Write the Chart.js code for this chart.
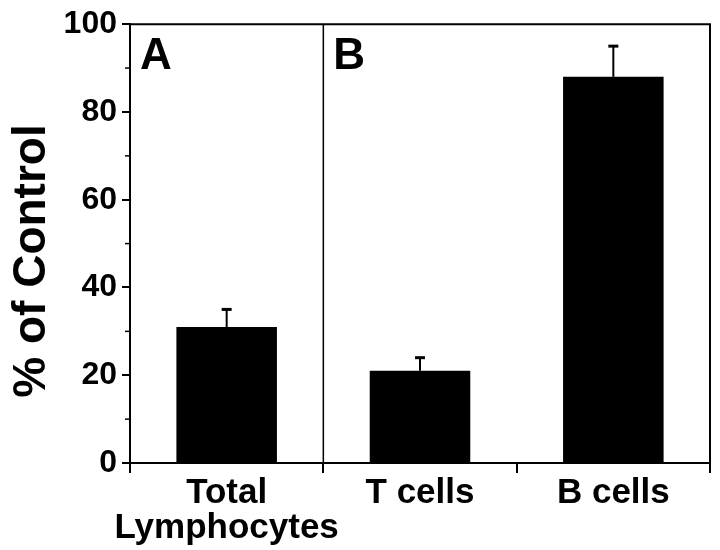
<!DOCTYPE html>
<html>
<head>
<meta charset="utf-8">
<script src="https://cdn.jsdelivr.net/npm/chart.js@4"></script>
<style>
  body { margin: 0; background: #fff; }
  canvas { display: block; }
</style>
</head>
<body>
<canvas id="controlChart" width="720" height="550"></canvas>
<script>
// ---- data ----
const categories = [["Total", "Lymphocytes"], "T cells", "B cells"];
const percentOfControl = [31, 21, 88];
const errorUp = [4, 3, 7];
const minorTickValues = [10, 30, 50, 70, 90];
const panelLetters = ["A", "B"];

Chart.defaults.font.family = "'Liberation Sans', Arial, sans-serif";
Chart.defaults.color = "#000";

// error bars, divider, frame, minor ticks, panel letters, y title
const decorations = {
  id: "decorations",
  afterDatasetsDraw(chart) {
    const { ctx, chartArea, scales } = chart;
    const x = scales.x, y = scales.y;
    const bars = chart.getDatasetMeta(0).data;

    ctx.save();
    ctx.strokeStyle = "#000";

    // error bars (upper only)
    bars.forEach((bar, i) => {
      const yTop = y.getPixelForValue(percentOfControl[i] + errorUp[i]);
      ctx.lineWidth = 2;
      ctx.beginPath();
      ctx.moveTo(bar.x, bar.y);
      ctx.lineTo(bar.x, yTop);
      ctx.stroke();
      ctx.lineWidth = 3;
      ctx.beginPath();
      ctx.moveTo(bar.x - 5, yTop);
      ctx.lineTo(bar.x + 5, yTop);
      ctx.stroke();
    });

    // divider between panel A and B
    const divX = (x.getPixelForValue(0) + x.getPixelForValue(1)) / 2;
    ctx.lineWidth = 1.5;
    ctx.beginPath();
    ctx.moveTo(divX, chartArea.top);
    ctx.lineTo(divX, chartArea.bottom);
    ctx.stroke();

    // top + right frame
    ctx.lineWidth = 2;
    ctx.beginPath();
    ctx.moveTo(chartArea.left, chartArea.top);
    ctx.lineTo(chartArea.right, chartArea.top);
    ctx.lineTo(chartArea.right, chartArea.bottom);
    ctx.stroke();

    // minor y ticks
    ctx.lineWidth = 1.5;
    minorTickValues.forEach((v) => {
      const py = y.getPixelForValue(v);
      ctx.beginPath();
      ctx.moveTo(chartArea.left - 5, py);
      ctx.lineTo(chartArea.left, py);
      ctx.stroke();
    });

    // panel letters
    ctx.fillStyle = "#000";
    ctx.font = "bold 44px 'Liberation Sans', Arial, sans-serif";
    ctx.textBaseline = "alphabetic";
    ctx.textAlign = "left";
    ctx.fillText(panelLetters[0], chartArea.left + 10, chartArea.top + 45);
    ctx.fillText(panelLetters[1], divX + 10, chartArea.top + 45);

    // y axis title
    ctx.font = "bold 46px 'Liberation Sans', Arial, sans-serif";
    ctx.translate(32, 261);
    ctx.rotate(-Math.PI / 2);
    ctx.textAlign = "center";
    ctx.textBaseline = "middle";
    ctx.fillText("% of Control", 0, 0);
    ctx.restore();
  },
};

new Chart(document.getElementById("controlChart"), {
  type: "bar",
  data: {
    labels: categories,
    datasets: [
      {
        data: percentOfControl,
        backgroundColor: "#000",
        borderWidth: 0,
        barPercentage: 0.52,
        categoryPercentage: 1,
      },
    ],
  },
  options: {
    responsive: false,
    animation: false,
    layout: { padding: { left: 0, right: 10, top: 18, bottom: 0 } },
    plugins: { legend: { display: false }, tooltip: { enabled: false } },
    scales: {
      x: {
        offset: true,
        grid: {
          display: true,
          drawOnChartArea: false,
          offset: true,
          tickLength: 10,
          color: "#000",
          lineWidth: 2,
        },
        border: { display: true, color: "#000", width: 2 },
        ticks: {
          autoSkip: false,
          font: { size: 35, weight: "bold", lineHeight: 1.0 },
          color: "#000",
          padding: 3,
          maxRotation: 0,
        },
        afterFit: (scale) => { scale.height = 87; },
      },
      y: {
        min: 0,
        max: 100,
        ticks: {
          stepSize: 20,
          font: { size: 32, weight: "bold" },
          color: "#000",
          padding: 5,
        },
        grid: {
          drawOnChartArea: false,
          tickLength: 8,
          color: "#000",
          lineWidth: 2,
        },
        border: { display: true, color: "#000", width: 2 },
        afterFit: (scale) => { scale.width = 130; },
      },
    },
  },
  plugins: [decorations],
});
</script>
</body>
</html>
